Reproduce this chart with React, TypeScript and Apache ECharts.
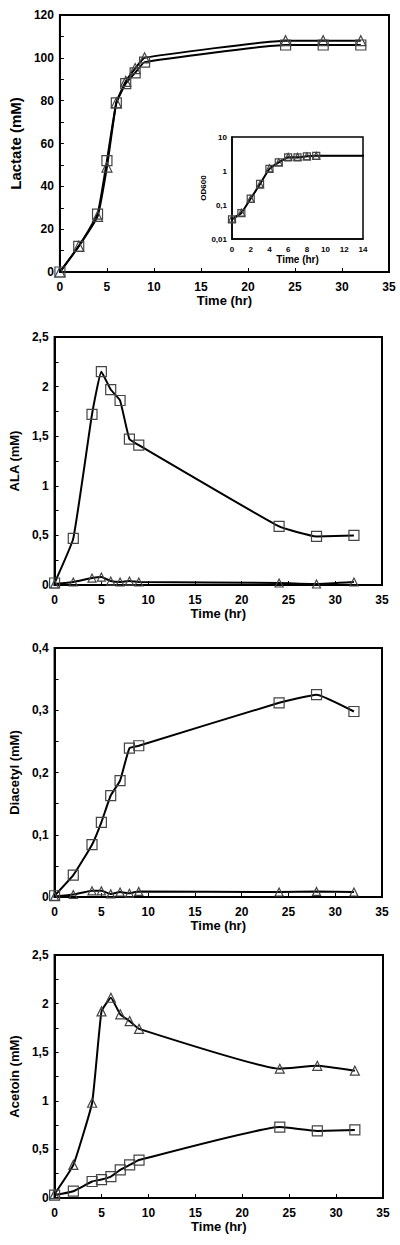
import React, { useEffect, useRef } from "react";
import * as echarts from "echarts";

const time = [0, 2, 4, 5, 6, 7, 8, 9, 24, 28, 32];
const lactateSquare = [0, 12, 27, 52, 79, 88, 93, 98, 106, 106, 106];
const lactateTriangle = [0, 12, 26, 49, 79, 89, 95, 100, 108, 108, 108];
const odTime = [0, 1, 2, 3, 4, 5, 6, 7, 8, 9, 24];
const odSquare = [0.038, 0.058, 0.155, 0.42, 1.15, 1.8, 2.5, 2.5, 2.7, 2.8, 2.8];
const odTriangle = [0.04, 0.06, 0.15, 0.4, 1.2, 1.8, 2.6, 2.6, 2.7, 2.8, 2.8];
const alaSquare = [0.02, 0.47, 1.72, 2.15, 1.97, 1.86, 1.47, 1.41, 0.59, 0.49, 0.5];
const alaTriangle = [0.01, 0.03, 0.07, 0.08, 0.04, 0.03, 0.04, 0.03, 0.02, 0.01, 0.03];
const diacetylSquare = [0.002, 0.035, 0.084, 0.12, 0.163, 0.187, 0.239, 0.243, 0.312, 0.325, 0.298];
const diacetylTriangle = [0.001, 0.004, 0.01, 0.01, 0.005, 0.008, 0.006, 0.009, 0.008, 0.009, 0.008];
const acetoinTriangle = [0.04, 0.34, 0.98, 1.92, 2.06, 1.89, 1.82, 1.74, 1.33, 1.36, 1.31];
const acetoinSquare = [0.03, 0.07, 0.17, 0.19, 0.22, 0.29, 0.34, 0.39, 0.73, 0.69, 0.7];

const FONT = "'Liberation Sans', Arial, sans-serif";

const fmt = (v: number) => String(Number(v.toPrecision(6))).replace(".", ",");

function pairs(xs: number[], ys: number[]) {
  return xs.map((x, i) => [x, ys[i]]);
}

export default function App() {
  const ref = useRef<HTMLDivElement>(null);
  useEffect(() => {
    if (!ref.current) return;
    const chart = echarts.init(ref.current, null, { renderer: "svg" });

    const grids = [
      { left: 51, top: 15, width: 338, height: 257 },
      { left: 49, top: 337, width: 333, height: 248 },
      { left: 48, top: 648, width: 334, height: 249 },
      { left: 48, top: 955, width: 335, height: 243 },
      { left: 232, top: 137, width: 131, height: 102 },
    ].map((g) => ({
      ...g,
      show: true,
      borderColor: "#000",
      borderWidth: 2,
      backgroundColor: "#fff",
      containLabel: false,
    }));
    grids[4].borderWidth = 1.5;

    const yDefs = [
      { name: "Lactate (mM)", max: 120, interval: 10, labelEvery: 20, nameSize: 15 },
      { name: "ALA (mM)", max: 2.5, interval: 0.25, labelEvery: 0.5, nameSize: 13 },
      { name: "Diacetyl (mM)", max: 0.4, interval: 0.05, labelEvery: 0.1, nameSize: 13 },
      { name: "Acetoin (mM)", max: 2.5, interval: 0.25, labelEvery: 0.5, nameSize: 13 },
    ];

    const xAxis: any[] = [0, 1, 2, 3].map((i) => ({
      type: "value",
      gridIndex: i,
      min: 0,
      max: 35,
      interval: 5,
      name: "Time (hr)",
      nameLocation: "middle",
      nameGap: 22,
      nameTextStyle: { fontFamily: FONT, fontWeight: "bold", fontSize: 13, color: "#000" },
      axisLine: { show: true, lineStyle: { color: "#000", width: 2 } },
      axisTick: { show: true, inside: true, length: 4, lineStyle: { color: "#000", width: 1 } },
      axisLabel: { fontFamily: FONT, fontWeight: "bold", fontSize: 12, color: "#000", margin: 9 },
      splitLine: { show: false },
    }));
    xAxis.push({
      type: "value",
      gridIndex: 4,
      min: 0,
      max: 14,
      interval: 2,
      name: "Time (hr)",
      nameLocation: "middle",
      nameGap: 15,
      nameTextStyle: { fontFamily: FONT, fontWeight: "bold", fontSize: 10, color: "#000" },
      axisLine: { show: true, lineStyle: { color: "#000", width: 1.5 } },
      axisTick: { show: false },
      axisLabel: { fontFamily: FONT, fontWeight: "bold", fontSize: 8, color: "#000", margin: 6 },
      splitLine: { show: false },
    });

    const yAxis: any[] = yDefs.map((d, i) => ({
      type: "value",
      gridIndex: i,
      min: 0,
      max: d.max,
      interval: d.interval,
      name: d.name,
      nameLocation: "middle",
      nameGap: 28,
      nameTextStyle: { fontFamily: FONT, fontWeight: "bold", fontSize: d.nameSize, color: "#000" },
      axisLine: { show: true, lineStyle: { color: "#000", width: 2 } },
      axisTick: { show: true, inside: true, length: 4, lineStyle: { color: "#000", width: 1 } },
      axisLabel: {
        fontFamily: FONT,
        fontWeight: "bold",
        fontSize: 12,
        color: "#000",
        margin: 6,
        formatter: (v: number) => {
          const r = v / d.labelEvery;
          return Math.abs(r - Math.round(r)) < 1e-6 ? fmt(v) : "";
        },
      },
      splitLine: { show: false },
    }));
    yAxis.push({
      type: "log",
      gridIndex: 4,
      min: 0.01,
      max: 10,
      logBase: 10,
      name: "OD600",
      nameLocation: "middle",
      nameGap: 20,
      nameTextStyle: { fontFamily: FONT, fontWeight: "bold", fontSize: 8, color: "#000" },
      axisLine: { show: true, lineStyle: { color: "#000", width: 1.5 } },
      axisTick: { show: false },
      axisLabel: {
        fontFamily: FONT,
        fontWeight: "bold",
        fontSize: 8,
        color: "#000",
        margin: 5,
        formatter: (v: number) => fmt(v),
      },
      splitLine: { show: false },
    });

    const mk = (
      idx: number,
      xs: number[],
      ys: number[],
      symbol: string,
      size: number,
      lw: number
    ) => ({
      type: "line",
      xAxisIndex: idx,
      yAxisIndex: idx,
      data: pairs(xs, ys),
      symbol,
      symbolSize: size,
      smooth: 0.12,
      clip: true,
      showAllSymbol: true,
      lineStyle: { color: "#000", width: lw },
      itemStyle: { color: "rgba(255,255,255,0)", borderColor: "#444", borderWidth: 1.2 },
      z: 3,
    });

    const series = [
      mk(0, time, lactateTriangle, "triangle", 10, 2),
      mk(0, time, lactateSquare, "rect", 10, 2),
      mk(1, time, alaSquare, "rect", 10, 2),
      mk(1, time, alaTriangle, "triangle", 8, 2),
      mk(2, time, diacetylSquare, "rect", 10, 2),
      mk(2, time, diacetylTriangle, "triangle", 8, 2),
      mk(3, time, acetoinTriangle, "triangle", 9, 2),
      mk(3, time, acetoinSquare, "rect", 10, 2),
      mk(4, odTime, odSquare, "rect", 7, 2),
      mk(4, odTime, odTriangle, "triangle", 7, 1),
    ];

    chart.setOption({
      animation: false,
      backgroundColor: "#fff",
      grid: grids,
      xAxis,
      yAxis,
      series,
    });
    return () => chart.dispose();
  }, []);

  return (
    <div
      ref={ref}
      style={{ position: "absolute", left: 0, top: 0, width: 400, height: 1245 }}
    />
  );
}
